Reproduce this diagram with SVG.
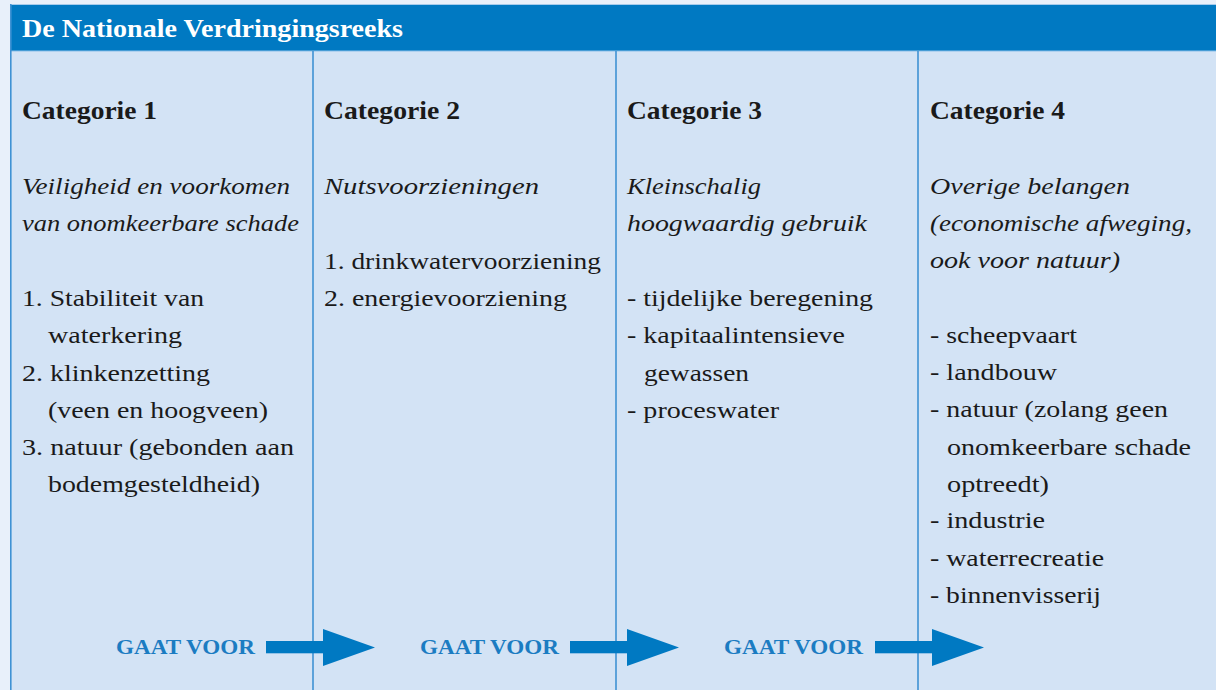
<svg xmlns="http://www.w3.org/2000/svg" width="1216" height="690" viewBox="0 0 1216 690">
  <style>
    .t { font-family: "Liberation Serif", "Times New Roman", serif; fill: #1a1a1a; }
    .title { font-family: "Liberation Serif", "Times New Roman", serif; font-weight: bold; font-size: 26px; fill: #ffffff; }
    .cat { font-weight: bold; font-size: 26px; }
    .it { font-style: italic; font-size: 24px; }
    .rg { font-size: 24px; }
    .gv { font-family: "Liberation Serif", "Times New Roman", serif; font-weight: bold; font-size: 22px; fill: #1b7cc2; }
    .div { stroke: #3f92d4; stroke-width: 1.6; }
    .arrow { fill: #0079c2; }
  </style>
  <rect x="0" y="0" width="1216" height="690" fill="#e8f0fa"/>
  <rect x="10" y="4" width="1206" height="686" fill="#d3e3f5"/>
  <rect x="10" y="4" width="1206" height="47" fill="#0079c2"/>
  <line x1="10" y1="4.5" x2="1216" y2="4.5" stroke="#a6cbeb" stroke-width="1"/>
  <line x1="10" y1="51" x2="1216" y2="51" stroke="#8cc0e9" stroke-width="1"/>
  <line class="div" x1="10.8" y1="4" x2="10.8" y2="690"/>
  <line class="div" x1="313" y1="51" x2="313" y2="690"/>
  <line class="div" x1="616" y1="51" x2="616" y2="690"/>
  <line class="div" x1="918" y1="51" x2="918" y2="690"/>

  <text class="title" x="22" y="37" textLength="381" lengthAdjust="spacingAndGlyphs">De Nationale Verdringingsreeks</text>

  <g id="categorie1" class="t">
    <text class="cat" x="22" y="119" textLength="135" lengthAdjust="spacingAndGlyphs">Categorie 1</text>
    <text class="it" x="22" y="194" textLength="268" lengthAdjust="spacingAndGlyphs">Veiligheid en voorkomen</text>
    <text class="it" x="22" y="231" textLength="277" lengthAdjust="spacingAndGlyphs">van onomkeerbare schade</text>
    <text class="rg" x="22" y="306" textLength="182" lengthAdjust="spacingAndGlyphs">1. Stabiliteit van</text>
    <text class="rg" x="48" y="343" textLength="134" lengthAdjust="spacingAndGlyphs">waterkering</text>
    <text class="rg" x="22" y="381" textLength="188" lengthAdjust="spacingAndGlyphs">2. klinkenzetting</text>
    <text class="rg" x="48" y="418" textLength="220" lengthAdjust="spacingAndGlyphs">(veen en hoogveen)</text>
    <text class="rg" x="22" y="455" textLength="272" lengthAdjust="spacingAndGlyphs">3. natuur (gebonden aan</text>
    <text class="rg" x="48" y="492" textLength="212" lengthAdjust="spacingAndGlyphs">bodemgesteldheid)</text>
  </g>

  <g id="categorie2" class="t">
    <text class="cat" x="324" y="119" textLength="136" lengthAdjust="spacingAndGlyphs">Categorie 2</text>
    <text class="it" x="324" y="194" textLength="215" lengthAdjust="spacingAndGlyphs">Nutsvoorzieningen</text>
    <text class="rg" x="324" y="269" textLength="277" lengthAdjust="spacingAndGlyphs">1. drinkwatervoorziening</text>
    <text class="rg" x="324" y="306" textLength="243" lengthAdjust="spacingAndGlyphs">2. energievoorziening</text>
  </g>

  <g id="categorie3" class="t">
    <text class="cat" x="627" y="119" textLength="135" lengthAdjust="spacingAndGlyphs">Categorie 3</text>
    <text class="it" x="627" y="194" textLength="134" lengthAdjust="spacingAndGlyphs">Kleinschalig</text>
    <text class="it" x="627" y="231" textLength="240" lengthAdjust="spacingAndGlyphs">hoogwaardig gebruik</text>
    <text class="rg" x="627" y="306" textLength="246" lengthAdjust="spacingAndGlyphs">- tijdelijke beregening</text>
    <text class="rg" x="627" y="343" textLength="218" lengthAdjust="spacingAndGlyphs">- kapitaalintensieve</text>
    <text class="rg" x="644" y="381" textLength="105" lengthAdjust="spacingAndGlyphs">gewassen</text>
    <text class="rg" x="627" y="418" textLength="152" lengthAdjust="spacingAndGlyphs">- proceswater</text>
  </g>

  <g id="categorie4" class="t">
    <text class="cat" x="930" y="119" textLength="135" lengthAdjust="spacingAndGlyphs">Categorie 4</text>
    <text class="it" x="930" y="194" textLength="200" lengthAdjust="spacingAndGlyphs">Overige belangen</text>
    <text class="it" x="930" y="231" textLength="262" lengthAdjust="spacingAndGlyphs">(economische afweging,</text>
    <text class="it" x="930" y="268" textLength="190" lengthAdjust="spacingAndGlyphs">ook voor natuur)</text>
    <text class="rg" x="930" y="343" textLength="147" lengthAdjust="spacingAndGlyphs">- scheepvaart</text>
    <text class="rg" x="930" y="380" textLength="127" lengthAdjust="spacingAndGlyphs">- landbouw</text>
    <text class="rg" x="930" y="417" textLength="238" lengthAdjust="spacingAndGlyphs">- natuur (zolang geen</text>
    <text class="rg" x="947" y="455" textLength="244" lengthAdjust="spacingAndGlyphs">onomkeerbare schade</text>
    <text class="rg" x="947" y="492" textLength="102" lengthAdjust="spacingAndGlyphs">optreedt)</text>
    <text class="rg" x="930" y="528" textLength="115" lengthAdjust="spacingAndGlyphs">- industrie</text>
    <text class="rg" x="930" y="566" textLength="174" lengthAdjust="spacingAndGlyphs">- waterrecreatie</text>
    <text class="rg" x="930" y="603" textLength="171" lengthAdjust="spacingAndGlyphs">- binnenvisserij</text>
  </g>

  <g id="connectors">
    <g id="gaat-voor-1">
      <text class="gv" x="116" y="654" textLength="139" lengthAdjust="spacingAndGlyphs">GAAT VOOR</text>
      <rect class="arrow" x="266" y="641" width="58" height="12.3"/>
      <polygon class="arrow" points="323,629 375,647.5 323,666"/>
    </g>
    <g id="gaat-voor-2">
      <text class="gv" x="420" y="654" textLength="139" lengthAdjust="spacingAndGlyphs">GAAT VOOR</text>
      <rect class="arrow" x="570" y="641" width="58" height="12.3"/>
      <polygon class="arrow" points="627,629 679,647.5 627,666"/>
    </g>
    <g id="gaat-voor-3">
      <text class="gv" x="724" y="654" textLength="139" lengthAdjust="spacingAndGlyphs">GAAT VOOR</text>
      <rect class="arrow" x="875" y="641" width="58" height="12.3"/>
      <polygon class="arrow" points="932,629 984,647.5 932,666"/>
    </g>
  </g>
</svg>
